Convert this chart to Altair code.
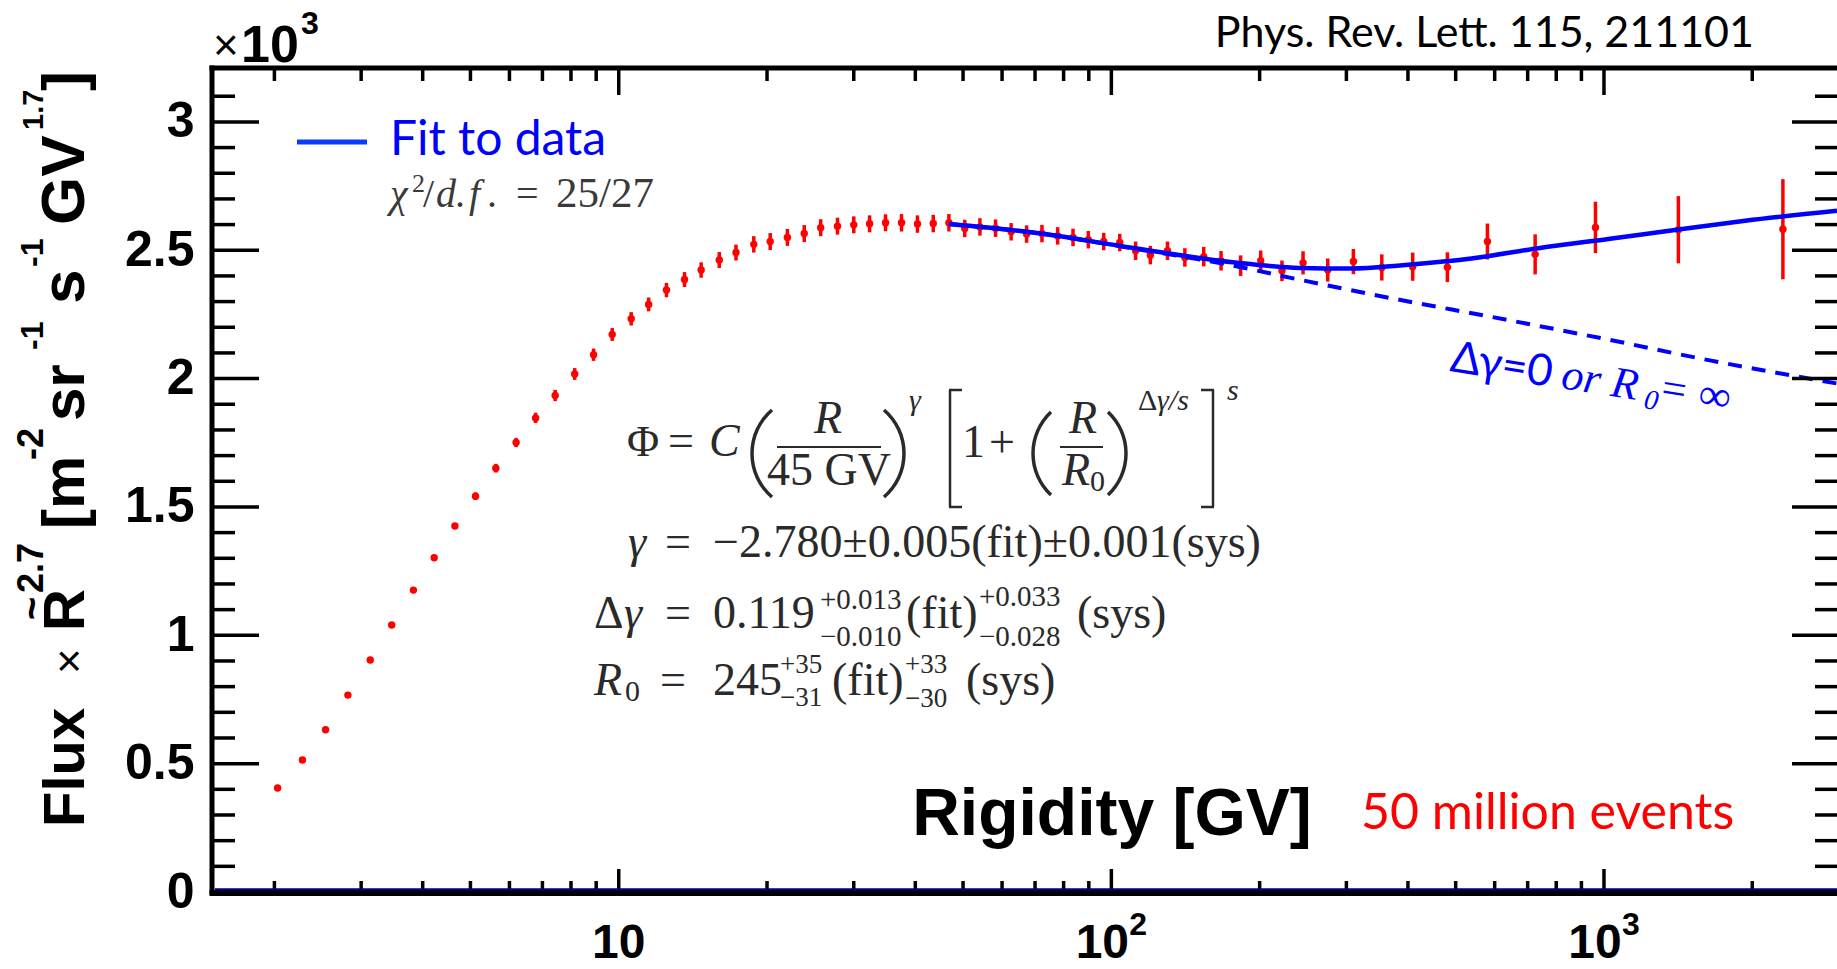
import math
import altair as alt
import pandas as pd

# ---------------- data ----------------
rigidity = [2.03, 2.28, 2.54, 2.82, 3.13, 3.46, 3.83, 4.22, 4.65, 5.12,
            5.63, 6.19, 6.78, 7.43, 8.14, 8.89, 9.70, 10.6, 11.5, 12.5,
            13.6, 14.7, 16.0, 17.3, 18.8, 20.3, 22.0, 23.8, 25.7, 27.8,
            30.0, 32.3, 34.8, 37.5, 40.4, 43.5, 46.8, 50.4, 54.1, 58.2,
            62.6, 67.3, 72.3, 77.8, 83.6, 89.8, 96.5, 104, 112, 120,
            130, 141, 154, 167, 183, 201, 222, 245, 275, 310,
            354, 409, 481, 580, 725, 961, 1416, 2308]
flux = [0.405, 0.514, 0.632, 0.767, 0.904, 1.040, 1.176, 1.302, 1.426, 1.542,
        1.651, 1.751, 1.847, 1.934, 2.018, 2.093, 2.172, 2.233, 2.289, 2.345,
        2.386, 2.423, 2.462, 2.491, 2.523, 2.534, 2.550, 2.565, 2.588, 2.594,
        2.599, 2.603, 2.607, 2.607, 2.602, 2.604, 2.607, 2.585, 2.591, 2.586,
        2.572, 2.563, 2.565, 2.556, 2.550, 2.541, 2.534, 2.530, 2.498, 2.481,
        2.498, 2.472, 2.475, 2.459, 2.440, 2.459, 2.420, 2.451, 2.423, 2.456,
        2.433, 2.436, 2.434, 2.534, 2.484, 2.589, 2.580, 2.582]
flux_err = [0.010, 0.010, 0.010, 0.010, 0.010, 0.010, 0.010, 0.010, 0.010, 0.015,
            0.017, 0.018, 0.020, 0.022, 0.023, 0.024, 0.025, 0.026, 0.027, 0.028,
            0.029, 0.030, 0.031, 0.031, 0.032, 0.033, 0.033, 0.033, 0.033, 0.033,
            0.033, 0.033, 0.033, 0.034, 0.034, 0.034, 0.034, 0.034, 0.034, 0.034,
            0.034, 0.034, 0.034, 0.034, 0.034, 0.034, 0.034, 0.034, 0.036, 0.036,
            0.036, 0.036, 0.038, 0.038, 0.040, 0.040, 0.040, 0.045, 0.045, 0.049,
            0.051, 0.055, 0.058, 0.070, 0.078, 0.100, 0.131, 0.195]

fit_rigidity = [46.8, 69.4, 110.8, 176.8, 241.5, 307, 390, 538, 741, 1020, 1405, 1935, 2972]
fit_flux = [2.602, 2.569, 2.509, 2.453, 2.431, 2.429, 2.442, 2.468, 2.509, 2.544, 2.580, 2.615, 2.654]

nobreak_rigidity = [46.8, 69.4, 110.8, 174.6, 241.5, 354.7, 631, 1020, 1650, 2972]
nobreak_flux = [2.602, 2.569, 2.507, 2.442, 2.385, 2.320, 2.230, 2.152, 2.070, 1.981]

y_major = [0, 0.5, 1, 1.5, 2, 2.5, 3]
y_minor = [0.1, 0.2, 0.3, 0.4, 0.6, 0.7, 0.8, 0.9, 1.1, 1.2, 1.3, 1.4, 1.6, 1.7, 1.8, 1.9,
           2.1, 2.2, 2.3, 2.4, 2.6, 2.7, 2.8, 2.9, 3.1]
x_major = [10, 100, 1000]
x_minor = [2, 3, 4, 5, 6, 7, 8, 9, 20, 30, 40, 50, 60, 70, 80, 90,
           200, 300, 400, 500, 600, 700, 800, 900, 2000]
x_tick_base = ["10", "10", "10"]
x_tick_power = ["", "2", "3"]

# ---------------- layout ----------------
LEFT, TOP = 212, 68
W, H = 1625, 824
SANS = "Liberation Sans"
SERIF = "Liberation Serif"
CAL = "Lato"
EQ = "#2a2a2a"

xscale = alt.Scale(type="log", domain=[1.494, 2972], nice=False)
yscale = alt.Scale(domain=[0, 3.21], nice=False, zero=False)

df = pd.DataFrame({"R": rigidity, "F": flux, "lo": [f - e for f, e in zip(flux, flux_err)],
                   "hi": [f + e for f, e in zip(flux, flux_err)]})
fit_df = pd.DataFrame({"R": fit_rigidity, "F": fit_flux})
nb_df = pd.DataFrame({"R": nobreak_rigidity, "F": nobreak_flux})
xlab_df = pd.DataFrame({"v": x_major, "base": x_tick_base, "pow": x_tick_power})
one = pd.DataFrame({"a": [0]})

yaxis = alt.Axis(values=y_major, format="~g", ticks=False, domain=False, grid=False,
                 title=None, labelFont=SANS, labelFontWeight="bold", labelFontSize=50,
                 labelColor="black", labelPadding=18, labelFlush=False, labelOverlap=False)


def X(field):
    return alt.X(field, scale=xscale, axis=None, title=None)


def Y(field):
    return alt.Y(field, scale=yscale, axis=yaxis, title=None)


layers = []

# data points + error bars
layers.append(alt.Chart(df).mark_rule(color="#ff0000", strokeWidth=3.5).encode(
    x=X("R:Q"), y=Y("lo:Q"), y2="hi:Q"))
layers.append(alt.Chart(df).mark_circle(color="#ff0000", size=55, opacity=1).encode(
    x=X("R:Q"), y=Y("F:Q")))

# no-break curve (dashed) and fit (solid)
layers.append(alt.Chart(nb_df).mark_line(color="#0000ff", strokeWidth=4, strokeDash=[14, 10],
                                         interpolate="monotone").encode(x=X("R:Q"), y=Y("F:Q")))
layers.append(alt.Chart(fit_df).mark_line(color="#0000ff", strokeWidth=4.5,
                                          interpolate="monotone").encode(x=X("R:Q"), y=Y("F:Q")))


# inward ticks
def yticks(vals, length, right=False):
    d = pd.DataFrame({"v": vals})
    x0 = W if right else 0
    x1 = W - length if right else length
    return alt.Chart(d).mark_rule(color="black", strokeWidth=3.5).encode(
        y=Y("v:Q"), x=alt.value(x0), x2=alt.value(x1))


def xticks(vals, length, top=False):
    d = pd.DataFrame({"v": vals})
    y0 = 0 if top else H
    y1 = length if top else H - length
    return alt.Chart(d).mark_rule(color="black", strokeWidth=3.5).encode(
        x=X("v:Q"), y=alt.value(y0), y2=alt.value(y1))


layers += [yticks(y_major, 47), yticks(y_minor, 23), yticks(y_major, 45, True), yticks(y_minor, 22, True),
           xticks(x_major, 23), xticks(x_minor, 11), xticks(x_major, 27, True), xticks(x_minor, 13, True)]

# x tick labels (10, 10^2, 10^3) through the x scale
lab_font = dict(font=SANS, fontWeight="bold", color="black")
layers.append(alt.Chart(xlab_df).transform_filter("datum.pow == ''").mark_text(
    fontSize=48, align="center", baseline="alphabetic", **lab_font).encode(
    x=X("v:Q"), y=alt.value(H + 66), text="base:N"))
layers.append(alt.Chart(xlab_df).transform_filter("datum.pow != ''").mark_text(
    fontSize=48, align="center", baseline="alphabetic", dx=-9, **lab_font).encode(
    x=X("v:Q"), y=alt.value(H + 66), text="base:N"))
layers.append(alt.Chart(xlab_df).transform_filter("datum.pow != ''").mark_text(
    fontSize=32, align="left", baseline="alphabetic", dx=18, **lab_font).encode(
    x=X("v:Q"), y=alt.value(H + 43), text="pow:N"))


def rule(x1, y1, x2, y2, color="black", width=5):
    return alt.Chart(one).mark_rule(color=color, strokeWidth=width).encode(
        x=alt.value(x1 - LEFT), y=alt.value(y1 - TOP), x2=alt.value(x2 - LEFT), y2=alt.value(y2 - TOP))


# frame
layers.append(rule(LEFT, TOP - 2.5, LEFT, TOP + H + 2.5))
layers.append(rule(LEFT - 2.5, TOP, LEFT + W, TOP))
layers.append(rule(LEFT - 2.5, TOP + H + 1, LEFT + W, TOP + H + 1, width=6))
layers.append(rule(LEFT + 3, TOP + H - 2.5, LEFT + W, TOP + H - 2.5, color="#000080", width=2.5))


def txt(s, x, y, size, font=SERIF, weight="normal", style="normal", color=EQ,
        align="left", baseline="alphabetic", angle=0):
    return alt.Chart(one).mark_text(text=s, font=font, fontSize=size, fontWeight=weight,
                                    fontStyle=style, color=color, align=align,
                                    baseline=baseline, angle=angle).encode(
        x=alt.value(x - LEFT), y=alt.value(y - TOP))


def paren(x_ink, y_top, y_bot, sag, left=True, width=3.5, color=EQ):
    chord = y_bot - y_top
    r = (chord * chord / 4 + sag * sag) / (2 * sag)
    half = math.asin((chord / 2) / r)
    cy = (y_top + y_bot) / 2
    if left:
        cx = x_ink + r
        t1, t2 = 1.5 * math.pi - half, 1.5 * math.pi + half
    else:
        cx = x_ink - r
        t1, t2 = 0.5 * math.pi - half, 0.5 * math.pi + half
    return alt.Chart(one).mark_arc(theta=t1, theta2=t2, radius=r + width / 2,
                                   radius2=r - width / 2, color=color).encode(
        x=alt.value(cx - LEFT), y=alt.value(cy - TOP))


# top-left multiplier and reference
layers += [txt("×", 213, 60, 44, font=SANS, color="black"),
           txt("10", 241, 62, 52, font=SANS, weight="bold", color="black"),
           txt("3", 301, 34, 32, font=SANS, weight="bold", color="black"),
           txt("Phys. Rev. Lett. 115, 211101", 1754, 47, 43, font=CAL, color="black", align="right")]

# y axis title pieces (rotated)
YB, YS = 84, 43
ylab = [("Flux", YB, 827, 58), ("R", YB, 631, 58), ("~", 45, 620, 40),
        ("2.7", YS, 593, 36), ("[m", YB, 529, 60),
        ("-2", YS, 460, 36), ("sr", YB, 421, 60),
        ("-1", YS, 350, 32), ("s", YB, 304, 62),
        ("-1", YS, 267, 32), ("GV", YB, 225, 62),
        ("1.7", YS, 130, 29), ("]", YB, 91, 60)]
for s, x, y, size in ylab:
    layers.append(txt(s, x, y, size, font=SANS, weight="bold", color="black", angle=270))
layers.append(txt("×", YB, 674, 44, font=SANS, color="black", angle=270))

# legend
layers.append(rule(297, 142, 367, 142, color="#0a3cff", width=5))
layers.append(txt("Fit to data", 390, 155, 48, font=CAL, color="#0000ff"))
CH = "#3a3a3a"
layers += [txt("χ", 390, 207, 40, style="italic", color=CH),
           txt("2", 412, 192, 26, color=CH),
           txt("/", 423, 207, 40, color=CH),
           txt("d", 436, 207, 40, style="italic", color=CH),
           txt(".", 455, 207, 40, color=CH),
           txt("f", 469, 207, 40, style="italic", color=CH),
           txt(".", 487, 207, 40, color=CH),
           txt("=", 516, 207, 40, color=CH),
           txt("25/27", 556, 207, 43, color=CH)]

# formula line 1
layers += [txt("Φ", 627, 456, 44), txt("=", 668, 456, 46), txt("C", 709, 456, 46, style="italic"),
           paren(752, 410, 497, 20, left=True),
           txt("R", 828, 433, 46, style="italic", align="center"),
           rule(777, 447, 881, 447, color=EQ, width=2),
           txt("45 GV", 829, 485, 46, align="center"),
           paren(904, 410, 497, 20, left=False),
           txt("γ", 909, 410, 30, style="italic"),
           rule(950, 390, 950, 507, color=EQ, width=2.5), rule(949, 390, 962, 390, color=EQ, width=2.5),
           rule(949, 507, 962, 507, color=EQ, width=2.5),
           txt("1", 962, 457, 46), txt("+", 989, 457, 46),
           paren(1033, 412, 495, 18, left=True),
           txt("R", 1083, 433, 46, style="italic", align="center"),
           rule(1060, 447, 1103, 447, color=EQ, width=2),
           txt("R", 1076, 485, 46, style="italic", align="center"), txt("0", 1090, 491, 30),
           paren(1126, 412, 495, 18, left=False),
           txt("Δ", 1138, 410, 30), txt("γ/s", 1157, 410, 30, style="italic"),
           rule(1213, 390, 1213, 507, color=EQ, width=2.5), rule(1201, 390, 1214, 390, color=EQ, width=2.5),
           rule(1201, 507, 1214, 507, color=EQ, width=2.5),
           txt("s", 1227, 400, 30, style="italic")]
# line 2
layers += [txt("γ", 628, 557, 46, style="italic"),
           txt("=", 665, 557, 46),
           txt("−2.780±0.005(fit)±0.001(sys)", 713, 557, 46)]
# line 3
layers += [txt("Δ", 594, 628, 46), txt("γ", 624, 628, 46, style="italic"), txt("=", 665, 628, 46),
           txt("0.119", 713, 628, 46),
           txt("+0.013", 820, 609, 29), txt("−0.010", 820, 646, 29),
           txt("(fit)", 906, 628, 46),
           txt("+0.033", 979, 606, 29), txt("−0.028", 979, 646, 29),
           txt("(sys)", 1077, 628, 46)]
# line 4
layers += [txt("R", 594, 695, 46, style="italic"), txt("0", 625, 701, 30),
           txt("=", 660, 695, 46), txt("245", 713, 695, 46),
           txt("+35", 780, 673, 27), txt("−31", 780, 706, 27),
           txt("(fit)", 832, 695, 46),
           txt("+33", 905, 673, 27), txt("−30", 905, 707, 27),
           txt("(sys)", 966, 695, 46)]

# no-break label
layers += [txt("Δγ=0", 1449, 371, 44, font=CAL, color="#0000ff", angle=9),
           txt("or R", 1560, 388, 44, font=SERIF, style="italic", color="#0000ff", angle=9),
           txt("0", 1643, 408, 28, font=SERIF, style="italic", color="#0000ff", angle=9),
           txt("= ∞", 1657, 401, 44, font=SERIF, style="italic", color="#0000ff", angle=9)]

# axis title and event count
layers += [txt("Rigidity [GV]", 1112, 835, 66, font=SANS, weight="bold", color="black", align="center"),
           txt("50 million events", 1361, 829, 50, font=CAL, color="#ff0000")]

chart = alt.layer(*layers).properties(
    width=W, height=H,
    autosize=alt.AutoSizeParams(type="none"),
    padding={"left": LEFT, "top": TOP, "right": 0, "bottom": 969 - TOP - H},
    background="white",
).configure_view(stroke=None)

chart.save("out.html", embed_options={"renderer": "svg", "actions": False})
